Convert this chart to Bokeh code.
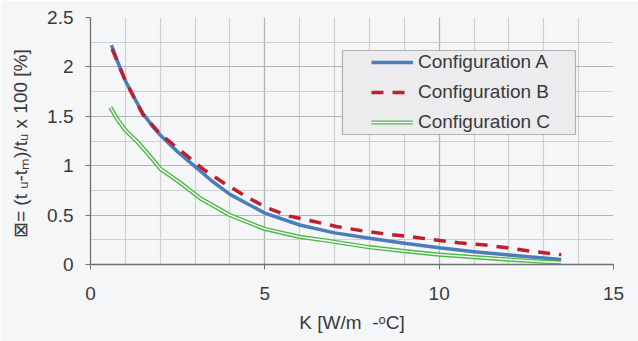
from bokeh.plotting import figure
from bokeh.models import (Range1d, SingleIntervalTicker, Legend, LegendItem,
                          BoxAnnotation)
from bokeh.embed import file_html
from bokeh.resources import INLINE

# ---- data ----
x_a = [0.6, 0.77, 1.0, 1.25, 1.5, 1.8, 2.0, 2.5, 3.0, 3.5, 4.0, 5.0, 6.0, 7.0,
       8.0, 9.0, 10.0, 11.0, 12.0, 13.0, 13.5]
y_a = [2.22, 2.06, 1.86, 1.69, 1.53, 1.39, 1.31, 1.14, 0.99, 0.84, 0.71, 0.52,
       0.40, 0.32, 0.265, 0.215, 0.17, 0.13, 0.095, 0.065, 0.05]

x_b = [0.62, 1.0, 1.5, 2.0, 2.7, 3.25, 3.8, 4.45, 5.05, 5.7, 6.35, 7.05, 7.8,
       8.45, 9.2, 9.85, 10.55, 11.25, 11.95, 12.6, 13.5]
y_b = [2.18, 1.86, 1.52, 1.32, 1.12, 0.96, 0.83, 0.69, 0.575, 0.49, 0.44, 0.385,
       0.34, 0.31, 0.28, 0.25, 0.22, 0.20, 0.17, 0.135, 0.10]

x_c = [0.57, 0.77, 1.0, 1.35, 1.65, 2.0, 2.6, 3.15, 4.0, 5.0, 6.0, 6.8, 8.0,
       9.0, 10.0, 11.0, 12.0, 13.0, 13.5]
y_c = [1.59, 1.47, 1.36, 1.24, 1.12, 0.97, 0.82, 0.67, 0.50, 0.36, 0.28, 0.24,
       0.175, 0.135, 0.10, 0.075, 0.05, 0.028, 0.02]

series_names = ["Configuration A", "Configuration B", "Configuration C"]
x_label = "K [W/m\u00a0\u00a0-\u1d52C]"
y_label = "\u22a0= (t \u1d64-t\u2098)/t\u1d64  x 100 [%]"

BG = "#f5f6f8"
TXT = "#3a3a3a"
FONT = "Liberation Sans"
FS = "19px"

p = figure(width=638, height=341, output_backend="svg", toolbar_location=None,
           x_range=Range1d(0, 15), y_range=Range1d(0, 2.5),
           min_border_left=90, min_border_right=25, min_border_top=17,
           min_border_bottom=77)
p.background_fill_color = BG
p.border_fill_color = BG
p.outline_line_color = None

# axes
p.xaxis.ticker = SingleIntervalTicker(interval=5, num_minor_ticks=5)
p.yaxis.ticker = SingleIntervalTicker(interval=0.5, num_minor_ticks=2)
for ax in (p.xaxis[0], p.yaxis[0]):
    ax.axis_line_color = "#707070"
    ax.axis_line_width = 1.3
    ax.major_tick_line_color = "#707070"
    ax.major_tick_out = 5
    ax.major_tick_in = 0
    ax.minor_tick_out = 0
    ax.minor_tick_in = 0
    ax.major_label_text_font = FONT
    ax.major_label_text_font_size = FS
    ax.major_label_text_color = TXT
    ax.axis_label_text_font = FONT
    ax.axis_label_text_font_size = FS
    ax.axis_label_text_font_style = "normal"
    ax.axis_label_text_color = TXT
p.xaxis.major_label_standoff = 17
p.xaxis.axis_label_standoff = 9
p.yaxis.major_label_standoff = 12
p.yaxis.axis_label_standoff = 13
p.xaxis.axis_label = x_label
p.yaxis.axis_label = y_label

# grid
for g in (p.xgrid[0], p.ygrid[0]):
    g.grid_line_color = "#b4b4b4"
    g.grid_line_width = 1.2
    g.minor_grid_line_color = "#cfcfcf"
    g.minor_grid_line_width = 1.2

# lines
ra = p.line(x_a, y_a, line_color="#4a7ebb", line_width=3.5, line_join="round")
rb = p.line(x_b, y_b, line_color="#be1e2d", line_width=3.5, line_dash="12 9",
            line_join="round")
rc1 = p.line(x_c, y_c, line_color="#4fb848", line_width=4.2, line_join="round")
rc2 = p.line(x_c, y_c, line_color="#ffffff", line_width=1.4, line_join="round")

# legend box
box = BoxAnnotation(left=(342 - 90) / 34.87, right=(575 - 90) / 34.87,
                    top=(264 - 50) / 98.8, bottom=(264 - 134) / 98.8,
                    fill_color="#ececee", fill_alpha=1.0,
                    line_color="#222222", line_width=1.2)
p.add_layout(box)

legend = Legend(items=[LegendItem(label=series_names[0], renderers=[ra]),
                       LegendItem(label=series_names[1], renderers=[rb]),
                       LegendItem(label=series_names[2], renderers=[rc1, rc2])],
                location=(281, 131), padding=0, margin=0, spacing=8,
                glyph_width=42, glyph_height=20, label_height=20,
                label_standoff=5, border_line_color=None,
                background_fill_alpha=0.0,
                label_text_font=FONT, label_text_font_size=FS,
                label_text_color=TXT)
p.add_layout(legend)

open("out.html", "w").write(file_html(p, INLINE))
